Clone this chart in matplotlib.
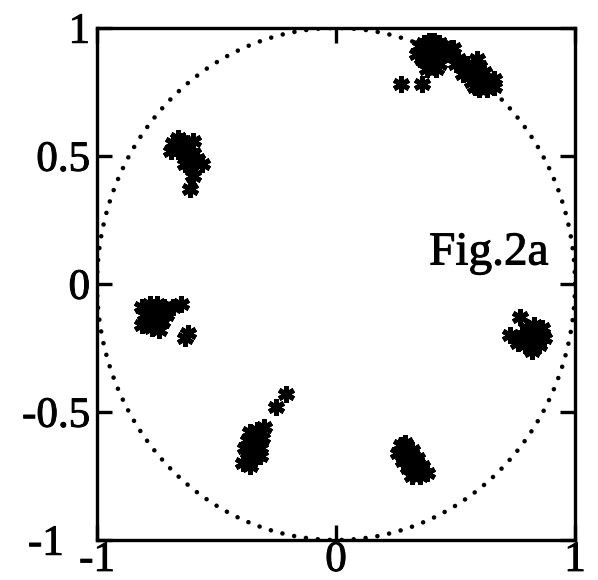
import numpy as np
import matplotlib.pyplot as plt
import matplotlib.patheffects as pe

plt.rcParams['font.family'] = ['Liberation Serif', 'DejaVu Serif']

# eigenvalue clusters (x = real part, y = imaginary part)
top_a = [(0.35, 0.93), (0.37, 0.94), (0.39, 0.95), (0.41, 0.95), (0.43, 0.94), (0.45, 0.93),
         (0.36, 0.90), (0.38, 0.91), (0.40, 0.91), (0.42, 0.90), (0.44, 0.89),
         (0.37, 0.87), (0.39, 0.87), (0.41, 0.88), (0.43, 0.86),
         (0.38, 0.84), (0.40, 0.85), (0.42, 0.84), (0.36, 0.88), (0.44, 0.92),
         (0.46, 0.90), (0.34, 0.90), (0.27, 0.78), (0.36, 0.78)]
top_b = [(0.49, 0.92), (0.51, 0.88), (0.54, 0.85), (0.53, 0.82), (0.56, 0.82), (0.58, 0.84),
         (0.60, 0.85), (0.62, 0.83), (0.57, 0.79), (0.59, 0.80), (0.61, 0.79), (0.63, 0.80),
         (0.66, 0.80), (0.60, 0.76), (0.63, 0.76), (0.66, 0.77), (0.58, 0.77), (0.55, 0.86),
         (0.59, 0.88), (0.50, 0.86)]
upper_left = [(-0.68, 0.55), (-0.66, 0.57), (-0.64, 0.56), (-0.62, 0.54), (-0.66, 0.52),
              (-0.64, 0.51), (-0.62, 0.50), (-0.60, 0.51), (-0.58, 0.49), (-0.63, 0.47),
              (-0.61, 0.46), (-0.56, 0.47), (-0.60, 0.42), (-0.61, 0.37), (-0.69, 0.52),
              (-0.60, 0.56)]
left = [(-0.81, -0.09), (-0.78, -0.08), (-0.75, -0.08), (-0.72, -0.09), (-0.80, -0.12),
        (-0.77, -0.11), (-0.74, -0.11), (-0.71, -0.12), (-0.79, -0.15), (-0.76, -0.14),
        (-0.73, -0.15), (-0.77, -0.17), (-0.74, -0.18), (-0.81, -0.16), (-0.68, -0.09),
        (-0.65, -0.08), (-0.62, -0.19), (-0.63, -0.21)]
lower_left = [(-0.36, -0.58), (-0.33, -0.57), (-0.37, -0.61), (-0.34, -0.61), (-0.31, -0.60),
              (-0.38, -0.64), (-0.35, -0.65), (-0.32, -0.64), (-0.37, -0.68), (-0.34, -0.68),
              (-0.36, -0.71), (-0.39, -0.70), (-0.30, -0.56), (-0.25, -0.48), (-0.21, -0.43),
              (-0.32, -0.67)]
lower_right = [(0.27, -0.63), (0.29, -0.62), (0.26, -0.66), (0.29, -0.66), (0.32, -0.65),
               (0.28, -0.69), (0.31, -0.69), (0.34, -0.68), (0.30, -0.72), (0.33, -0.72),
               (0.36, -0.71), (0.35, -0.75), (0.38, -0.74), (0.32, -0.75)]
right = [(0.80, -0.17), (0.83, -0.16), (0.86, -0.17), (0.78, -0.20), (0.81, -0.20),
         (0.84, -0.19), (0.87, -0.21), (0.79, -0.24), (0.82, -0.23), (0.85, -0.24),
         (0.82, -0.26), (0.77, -0.13), (0.73, -0.20), (0.76, -0.23)]

clusters = [top_a, top_b, upper_left, left, lower_left, lower_right, right]

x_ticks = [-1, 0, 1]
y_ticks = [-1, -0.5, 0, 0.5, 1]

fig = plt.figure(figsize=(5.98, 5.80), dpi=100)
ax = fig.add_axes([97 / 598, 1 - 540 / 580, 478 / 598, 512 / 580])

# unit circle, dotted
t = np.linspace(0, 2 * np.pi, 400)
ax.plot(np.cos(t), np.sin(t), color='black', lw=3.3,
        linestyle=(0, (0.01, 2.6)), dash_capstyle='round')

for pts in clusters:
    xs, ys = zip(*pts)
    ax.plot(xs, ys, ls='none', marker=(6, 2, 0), ms=12, mew=3.6,
            color='black', clip_on=False)

heavy = [pe.withStroke(linewidth=0.7, foreground='black')]

ax.text(0.64, 0.12, 'Fig.2a', fontsize=34, ha='center', va='center',
        path_effects=heavy)

ax.set_xlim(-1, 1)
ax.set_ylim(-1, 1)
ax.set_xticks(x_ticks)
ax.set_yticks(y_ticks)
ax.set_xticklabels(['-1', '0', '1'])
ax.set_yticklabels(['-1', '-0.5', '0', '0.5', '1'])
ax.tick_params(direction='in', length=11, width=2.4, labelsize=31,
               top=True, right=True, pad=5)
ax.tick_params(axis='x', pad=1)
for s in ax.spines.values():
    s.set_linewidth(2.4)

# the -1 on the y axis sits further left, clear of the x label
ax.yaxis.get_major_ticks()[0].set_pad(24)

for lab in ax.get_xticklabels() + ax.get_yticklabels():
    lab.set_path_effects(heavy)

fig.savefig('out.png', dpi=100)
